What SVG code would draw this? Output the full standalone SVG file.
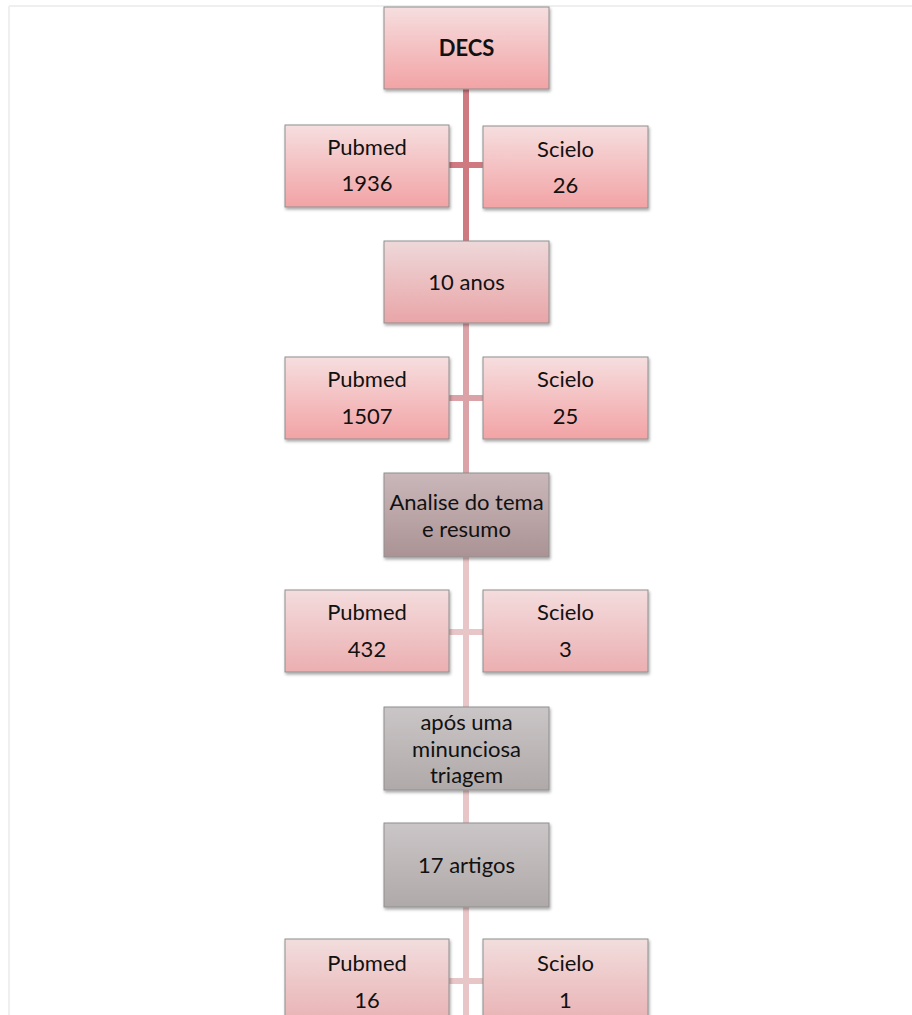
<svg xmlns="http://www.w3.org/2000/svg" width="912" height="1015" viewBox="0 0 912 1015">
  <defs>
    <linearGradient id="gPink1" x1="0" y1="0" x2="0" y2="1">
      <stop offset="0" stop-color="#f6dedf"/>
      <stop offset="1" stop-color="#f2a3a5"/>
    </linearGradient>
    <linearGradient id="gPink2" x1="0" y1="0" x2="0" y2="1">
      <stop offset="0" stop-color="#eed8d9"/>
      <stop offset="1" stop-color="#e9a5a8"/>
    </linearGradient>
    <linearGradient id="gPink3" x1="0" y1="0" x2="0" y2="1">
      <stop offset="0" stop-color="#f4dcdd"/>
      <stop offset="1" stop-color="#ebafb1"/>
    </linearGradient>
    <linearGradient id="gPink4" x1="0" y1="0" x2="0" y2="1">
      <stop offset="0" stop-color="#f2dddd"/>
      <stop offset="1" stop-color="#e9b3b5"/>
    </linearGradient>
    <linearGradient id="gRose" x1="0" y1="0" x2="0" y2="1">
      <stop offset="0" stop-color="#cab7b9"/>
      <stop offset="1" stop-color="#ab9395"/>
    </linearGradient>
    <linearGradient id="gGray" x1="0" y1="0" x2="0" y2="1">
      <stop offset="0" stop-color="#cac5c6"/>
      <stop offset="1" stop-color="#b0a9aa"/>
    </linearGradient>
    <filter id="shadow" x="-10%" y="-10%" width="125%" height="130%">
      <feDropShadow dx="1" dy="2" stdDeviation="1.5" flood-color="#000" flood-opacity="0.35"/>
    </filter>
  </defs>
  <style>
    .box { stroke: #8f8f8f; stroke-width: 1; filter: url(#shadow); }
    .t { font-family: Lato, "Liberation Sans", sans-serif; font-size: 22px; fill: #111; text-anchor: middle; }
    .b { font-weight: bold; }
    .c1 { fill: #cf7a80; }
    .c2 { fill: #dba3a7; }
    .c3 { fill: #e8c5c7; }
  </style>
  <rect width="912" height="1015" fill="#ffffff"/>
  <g id="page-border" fill="none" stroke="#efefef" stroke-width="2">
    <line x1="9" y1="6" x2="912" y2="6"/>
    <line x1="9" y1="6" x2="9" y2="1015"/>
  </g>

  <g id="connectors">
    <rect class="c1" x="463" y="89" width="6" height="152"/>
    <rect class="c1" x="449" y="162" width="34" height="6"/>
    <rect class="c2" x="463" y="323" width="6" height="150"/>
    <rect class="c2" x="449" y="395" width="34" height="6"/>
    <rect class="c3" x="463" y="557" width="6" height="150"/>
    <rect class="c3" x="449" y="629" width="34" height="6"/>
    <rect class="c3" x="463" y="790" width="6" height="33"/>
    <rect class="c3" x="463" y="907" width="6" height="108"/>
    <rect class="c3" x="449" y="978" width="34" height="6"/>
  </g>

  <g id="node-decs">
    <rect class="box" x="384" y="7" width="165" height="82" fill="url(#gPink1)"/>
    <text class="t b" x="466.5" y="56">DECS</text>
  </g>
  <g id="node-pubmed-1936">
    <rect class="box" x="285" y="125" width="164" height="82" fill="url(#gPink1)"/>
    <text class="t" x="367" y="155">Pubmed</text>
    <text class="t" x="367" y="191">1936</text>
  </g>
  <g id="node-scielo-26">
    <rect class="box" x="483" y="126" width="165" height="82" fill="url(#gPink1)"/>
    <text class="t" x="565.5" y="157">Scielo</text>
    <text class="t" x="565.5" y="193">26</text>
  </g>
  <g id="node-10-anos">
    <rect class="box" x="384" y="241" width="165" height="82" fill="url(#gPink2)"/>
    <text class="t" x="466.5" y="290">10 anos</text>
  </g>
  <g id="node-pubmed-1507">
    <rect class="box" x="285" y="357" width="164" height="82" fill="url(#gPink1)"/>
    <text class="t" x="367" y="387">Pubmed</text>
    <text class="t" x="367" y="424">1507</text>
  </g>
  <g id="node-scielo-25">
    <rect class="box" x="483" y="357" width="165" height="82" fill="url(#gPink1)"/>
    <text class="t" x="565.5" y="387">Scielo</text>
    <text class="t" x="565.5" y="424">25</text>
  </g>
  <g id="node-analise">
    <rect class="box" x="384" y="473" width="165" height="84" fill="url(#gRose)"/>
    <text class="t" x="466.5" y="510">Analise do tema</text>
    <text class="t" x="466.5" y="537">e resumo</text>
  </g>
  <g id="node-pubmed-432">
    <rect class="box" x="285" y="590" width="164" height="82" fill="url(#gPink3)"/>
    <text class="t" x="367" y="620">Pubmed</text>
    <text class="t" x="367" y="657">432</text>
  </g>
  <g id="node-scielo-3">
    <rect class="box" x="483" y="590" width="165" height="82" fill="url(#gPink3)"/>
    <text class="t" x="565.5" y="620">Scielo</text>
    <text class="t" x="565.5" y="657">3</text>
  </g>
  <g id="node-apos">
    <rect class="box" x="384" y="707" width="165" height="83" fill="url(#gGray)"/>
    <text class="t" x="466.5" y="730">após uma</text>
    <text class="t" x="466.5" y="757">minunciosa</text>
    <text class="t" x="466.5" y="783">triagem</text>
  </g>
  <g id="node-17-artigos">
    <rect class="box" x="384" y="823" width="165" height="84" fill="url(#gGray)"/>
    <text class="t" x="466.5" y="873">17 artigos</text>
  </g>
  <g id="node-pubmed-16">
    <rect class="box" x="285" y="939" width="164" height="82" fill="url(#gPink4)"/>
    <text class="t" x="367" y="971">Pubmed</text>
    <text class="t" x="367" y="1008">16</text>
  </g>
  <g id="node-scielo-1">
    <rect class="box" x="483" y="939" width="165" height="82" fill="url(#gPink4)"/>
    <text class="t" x="565.5" y="971">Scielo</text>
    <text class="t" x="565.5" y="1008">1</text>
  </g>
</svg>
